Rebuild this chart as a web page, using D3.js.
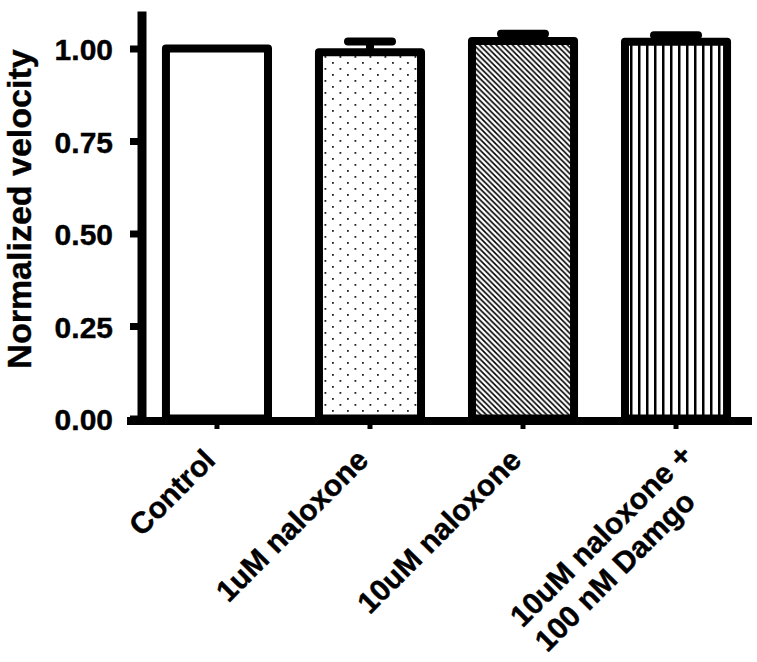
<!DOCTYPE html>
<html>
<head>
<meta charset="utf-8">
<script src="https://cdn.jsdelivr.net/npm/d3@7"></script>
<style>
  body { margin: 0; background: #fff; }
  text { font-family: "Liberation Sans", Arial, sans-serif; font-weight: bold; fill: #000; stroke: #000; stroke-width: 0.4px; }
</style>
</head>
<body>
<svg id="chart" width="757" height="662"></svg>
<script>
// data
var categories = ["Control", "1uM naloxone", "10uM naloxone", "10uM naloxone +\n100 nM Damgo"];
var means = [1.0, 0.99, 1.02, 1.018];
var errors = [0, 0.029, 0.02, 0.018];
var fills = ["white", "url(#dots)", "url(#diag)", "url(#vlines)"];
var yTicks = [0, 0.25, 0.5, 0.75, 1.0];

var svg = d3.select("#chart");

// fill patterns
var defs = svg.append("defs");
var dots = defs.append("pattern").attr("id", "dots")
    .attr("patternUnits", "userSpaceOnUse").attr("width", 15).attr("height", 12);
dots.append("rect").attr("width", 15).attr("height", 12).attr("fill", "#fff");
dots.append("rect").attr("x", 2).attr("y", 2).attr("width", 1.8).attr("height", 1.8).attr("fill", "#222");
dots.append("rect").attr("x", 9.5).attr("y", 8).attr("width", 1.8).attr("height", 1.8).attr("fill", "#222");

var diag = defs.append("pattern").attr("id", "diag")
    .attr("patternUnits", "userSpaceOnUse").attr("width", 5.5).attr("height", 5.5);
diag.append("rect").attr("width", 5.5).attr("height", 5.5).attr("fill", "#fff");
diag.append("path").attr("d", "M-1,-1 L6.5,6.5 M-1,4.5 L1,6.5 M4.5,-1 L6.5,1")
    .attr("stroke", "#000").attr("stroke-width", 1.6);

var vlines = defs.append("pattern").attr("id", "vlines")
    .attr("patternUnits", "userSpaceOnUse").attr("width", 8).attr("height", 8).attr("x", 638);
vlines.append("rect").attr("width", 8).attr("height", 8).attr("fill", "#fff");
vlines.append("rect").attr("x", 0).attr("width", 2.5).attr("height", 8).attr("fill", "#000");

var x = d3.scaleBand().domain(categories).range([143, 750])
    .paddingInner(0.333).paddingOuter(0.15);
var y = d3.scaleLinear().domain([0, 1.1]).range([418.5, 11.5]);

// bars
svg.append("g").selectAll("rect").data(categories).join("rect")
    .attr("x", function(d){ return x(d); })
    .attr("y", function(d, i){ return y(means[i]); })
    .attr("width", x.bandwidth())
    .attr("height", function(d, i){ return y(0) - y(means[i]); })
    .attr("fill", function(d, i){ return fills[i]; })
    .attr("stroke", "#000").attr("stroke-width", 8).attr("stroke-linejoin", "round");

// error bars (upper only)
var eb = svg.append("g").attr("stroke", "#000").attr("stroke-width", 8);
categories.forEach(function(c, i){
    if (!errors[i]) return;
    var cx = x(c) + x.bandwidth() / 2;
    eb.append("line").attr("x1", cx).attr("x2", cx)
        .attr("y1", y(means[i])).attr("y2", y(means[i] + errors[i]));
    eb.append("line").attr("x1", cx - 22).attr("x2", cx + 22)
        .attr("y1", y(means[i] + errors[i])).attr("y2", y(means[i] + errors[i]))
        .attr("stroke-linecap", "round");
});

// y axis
var yAxis = svg.append("g").attr("transform", "translate(142,0)")
    .call(d3.axisLeft(y).tickValues(yTicks).tickSize(12).tickSizeOuter(0)
        .tickPadding(17).tickFormat(d3.format(".2f")));
yAxis.select(".domain").attr("stroke-width", 9).attr("d", "M0," + y(1.1) + "V" + (y(0) + 6));
yAxis.selectAll(".tick line").attr("stroke-width", 7);
yAxis.selectAll(".tick text").attr("font-size", 30).attr("dy", "0.38em")
    .style("font-family", "'Liberation Sans', Arial, sans-serif").style("font-weight", "bold")
    .style("stroke", "#000").style("stroke-width", "0.4px");

// x axis
var xAxis = svg.append("g").attr("transform", "translate(0," + (y(0) + 2.5) + ")")
    .call(d3.axisBottom(x).tickSize(8).tickSizeOuter(0).tickFormat(""));
xAxis.select(".domain").attr("stroke-width", 8).attr("d", "M127,0H752");
xAxis.selectAll(".tick line").attr("stroke-width", 5);

// rotated category labels
categories.forEach(function(c, i){
    var cx = x(c) + x.bandwidth() / 2;
    var lines = c.split("\n");
    if (lines.length === 1) {
        svg.append("text").attr("transform", "translate(" + cx + ",462) rotate(-45)")
            .attr("text-anchor", "end").attr("font-size", 30).text(c);
    } else {
        var g = svg.append("g").attr("transform", "translate(" + (cx + 18) + ",457) rotate(-45)");
        var t1 = g.append("text").attr("text-anchor", "end").attr("font-size", 30).text(lines[0]);
        var L1 = t1.node().getComputedTextLength();
        g.append("text").attr("x", -L1).attr("y", 35).attr("font-size", 30).text(lines[1]);
    }
});

// y title
svg.append("text").attr("transform", "translate(31,209) rotate(-90)")
    .attr("text-anchor", "middle").attr("font-size", 34).text("Normalized velocity");
</script>
</body>
</html>
